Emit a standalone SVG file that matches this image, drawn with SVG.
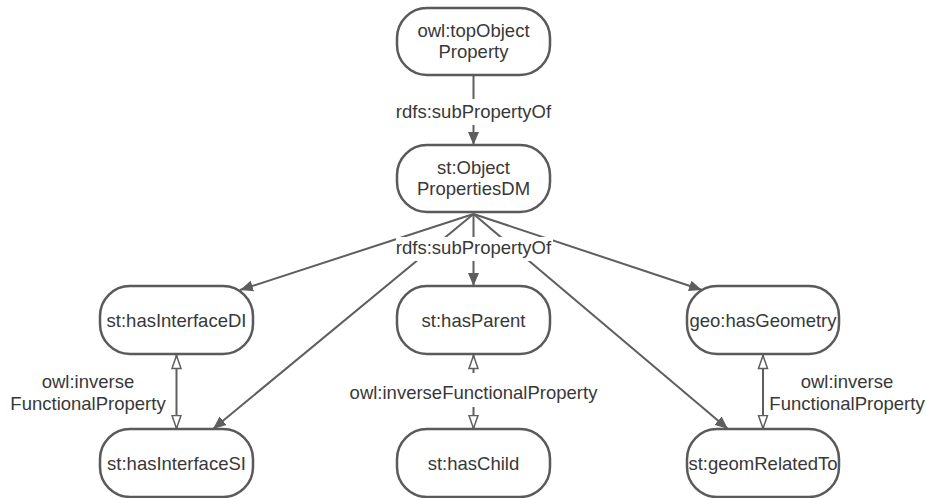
<svg xmlns="http://www.w3.org/2000/svg" width="926" height="498" viewBox="0 0 926 498">
  <style>
    .node rect { fill: #ffffff; stroke: #5a5a5a; stroke-width: 2.5; }
    text { font-family: "Liberation Sans", Arial, sans-serif; font-size: 18.5px; fill: #383838; text-anchor: middle; }
    .edge { stroke: #5e5e5e; stroke-width: 2; fill: none; }
    .sub { marker-end: url(#solid); }
    .inv { marker-start: url(#hollow); marker-end: url(#hollow); }
    .lblbg { fill: #ffffff; }
  </style>
  <defs>
    <marker id="solid" markerUnits="userSpaceOnUse" markerWidth="14" markerHeight="12" viewBox="0 0 14 12" refX="13" refY="6" orient="auto">
      <path d="M0,0.5 L13,6 L0,11.5 z" fill="#5e5e5e"/>
    </marker>
    <marker id="hollow" markerUnits="userSpaceOnUse" markerWidth="16" markerHeight="12" viewBox="0 0 16 12" refX="14.5" refY="6" orient="auto-start-reverse">
      <path d="M1,1.5 L14,6 L1,10.5 z" fill="#ffffff" stroke="#5e5e5e" stroke-width="1.5"/>
    </marker>
  </defs>
  <rect width="926" height="498" fill="#ffffff"/>

  <!-- connectors -->
  <g id="connectors">
    <line class="edge sub" x1="473.5" y1="75" x2="473.5" y2="145"/>
    <line class="edge sub" x1="473.5" y1="214" x2="240" y2="290"/>
    <line class="edge sub" x1="473.5" y1="214" x2="213" y2="429"/>
    <line class="edge sub" x1="473.5" y1="214" x2="473.5" y2="286"/>
    <line class="edge sub" x1="473.5" y1="214" x2="702" y2="290"/>
    <line class="edge sub" x1="473.5" y1="214" x2="728" y2="429"/>
    <line class="edge inv" x1="176.5" y1="355" x2="176.5" y2="429"/>
    <line class="edge inv" x1="473.5" y1="355" x2="473.5" y2="429"/>
    <line class="edge inv" x1="763" y1="355" x2="763" y2="429"/>

    <!-- edge labels -->
    <rect class="lblbg" x="395" y="99" width="157" height="26"/>
    <text x="473.5" y="118">rdfs:subPropertyOf</text>
    <rect class="lblbg" x="396" y="237" width="157" height="24"/>
    <text x="473.5" y="254">rdfs:subPropertyOf</text>
    <rect class="lblbg" x="345" y="373" width="258" height="34"/>
    <text x="473.5" y="399">owl:inverseFunctionalProperty</text>
    <text x="88" y="388">owl:inverse</text>
    <text x="88" y="410">FunctionalProperty</text>
    <text x="847" y="388">owl:inverse</text>
    <text x="847" y="410">FunctionalProperty</text>
  </g>

  <!-- nodes -->
  <g id="topObjectProperty" class="node">
    <rect x="397" y="8" width="153" height="67" rx="30" ry="30"/>
    <text x="473.5" y="37">owl:topObject</text>
    <text x="473.5" y="58">Property</text>
  </g>
  <g id="objectPropertiesDM" class="node">
    <rect x="397" y="145" width="153" height="67" rx="30" ry="30"/>
    <text x="473.5" y="174">st:Object</text>
    <text x="473.5" y="195">PropertiesDM</text>
  </g>
  <g id="hasInterfaceDI" class="node">
    <rect x="100" y="286" width="153" height="68" rx="30" ry="30"/>
    <text x="176.5" y="326.5">st:hasInterfaceDI</text>
  </g>
  <g id="hasParent" class="node">
    <rect x="397" y="286" width="153" height="68" rx="30" ry="30"/>
    <text x="473.5" y="326.5">st:hasParent</text>
  </g>
  <g id="hasGeometry" class="node">
    <rect x="687" y="286" width="152" height="68" rx="30" ry="30"/>
    <text x="763" y="326.5">geo:hasGeometry</text>
  </g>
  <g id="hasInterfaceSI" class="node">
    <rect x="100" y="429" width="153" height="68" rx="30" ry="30"/>
    <text x="176.5" y="469.5">st:hasInterfaceSI</text>
  </g>
  <g id="hasChild" class="node">
    <rect x="397" y="429" width="153" height="68" rx="30" ry="30"/>
    <text x="473.5" y="469.5">st:hasChild</text>
  </g>
  <g id="geomRelatedTo" class="node">
    <rect x="687" y="429" width="152" height="68" rx="30" ry="30"/>
    <text x="763" y="469.5">st:geomRelatedTo</text>
  </g>
</svg>
